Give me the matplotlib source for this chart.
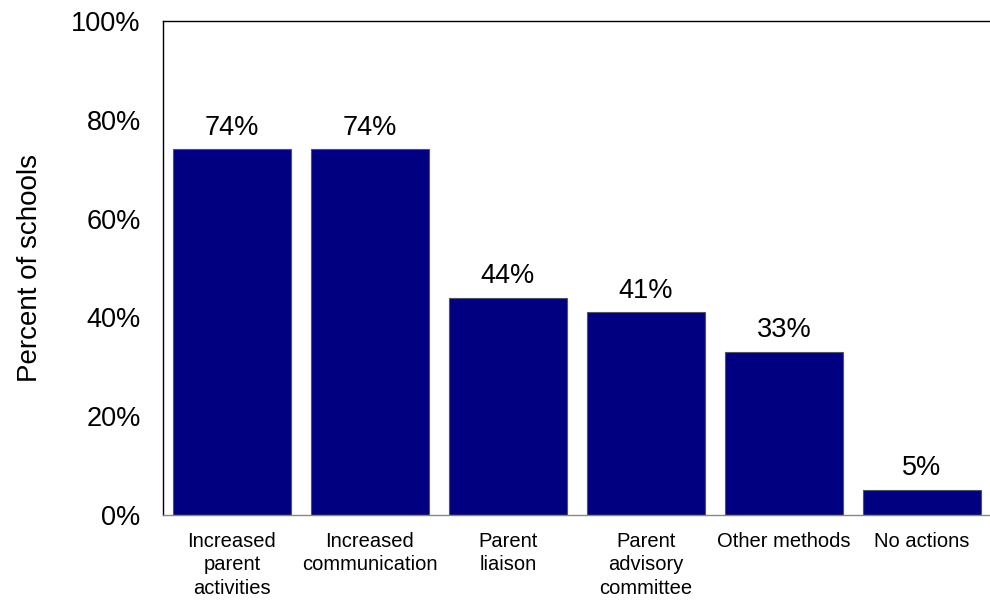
import matplotlib.pyplot as plt
from matplotlib.ticker import PercentFormatter

plt.rcParams['font.family'] = ['Liberation Sans', 'DejaVu Sans']

# Actions schools took to involve parents
categories = ['Increased\nparent\nactivities', 'Increased\ncommunication',
              'Parent\nliaison', 'Parent\nadvisory\ncommittee',
              'Other methods', 'No actions']
percent = [74, 74, 44, 41, 33, 5]

fig = plt.figure(figsize=(9.9, 6), dpi=100)
ax = fig.add_axes([0.1646, 0.1417, 0.8364, 0.8233])

x = range(len(categories))
bars = ax.bar(x, percent, width=0.85, color='#000080', edgecolor='#555555', linewidth=0.8)

for xi, v in zip(x, percent):
    ax.text(xi, v + 1.8, f'{v}%', ha='center', va='bottom', fontsize=19.5)

ax.set_xlim(-0.5, len(categories) - 0.5)
ax.set_ylim(0, 100)
ax.set_yticks(range(0, 101, 20))
ax.yaxis.set_major_formatter(PercentFormatter(decimals=0))
ax.set_xticks(list(x))
ax.set_xticklabels(categories, fontsize=14.5, linespacing=1.3)
ax.tick_params(axis='y', labelsize=19.5, length=0, pad=16)
ax.tick_params(axis='x', length=0, pad=12)
ax.set_ylabel('Percent of schools', fontsize=20, labelpad=20)

ax.spines['right'].set_visible(False)
for s in ['left', 'top', 'bottom']:
    ax.spines[s].set_linewidth(1.0)
ax.spines['bottom'].set_color('#888888')

fig.savefig('out.png', dpi=100)
